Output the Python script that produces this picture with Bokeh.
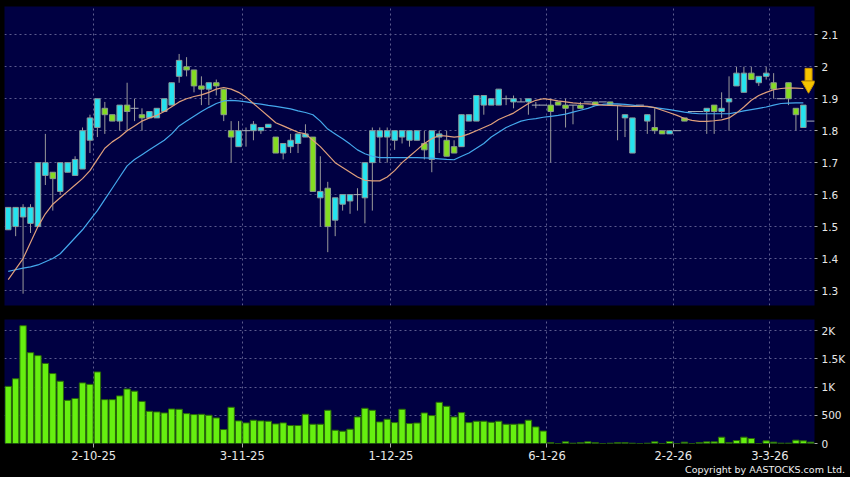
import numpy as np
from bokeh.plotting import figure
from bokeh.models import ColumnDataSource, FixedTicker, Range1d, Grid, NumeralTickFormatter, Div
from bokeh.layouts import column
from bokeh.embed import file_html
from bokeh.resources import INLINE

# ---------------- data ----------------
opens = [1.49, 1.50, 1.53, 1.51, 1.50, 1.66, 1.67, 1.61, 1.67, 1.66,
         1.68, 1.77, 1.81, 1.87, 1.85, 1.83, 1.88, 1.87, 1.85, 1.84,
         1.84, 1.86, 1.88, 1.97, 2.00, 1.99, 1.94, 1.93, 1.95, 1.93,
         1.80, 1.75, 1.80, 1.80, 1.80, 1.81, 1.78, 1.73, 1.75, 1.76,
         1.78, 1.78, 1.59, 1.62, 1.52, 1.57, 1.58, 1.60, 1.59, 1.70,
         1.78, 1.78, 1.77, 1.78, 1.77, 1.77, 1.76, 1.71, 1.78, 1.77,
         1.75, 1.75, 1.83, 1.83, 1.88, 1.88, 1.88, 1.90, 1.89, 1.89,
         1.89, 1.88, 1.88, 1.88, 1.89, 1.88, 1.88, 1.88, 1.89, 1.89,
         1.89, 1.89, 1.88, 1.84, 1.73, 1.88, 1.83, 1.81, 1.80, 1.79,
         1.80, 1.84, 1.86, 1.86, 1.86, 1.88, 1.86, 1.89, 1.94, 1.92,
         1.98, 1.95, 1.97, 1.95, 1.90, 1.95, 1.87, 1.81, 1.83]
highs = [1.56, 1.56, 1.57, 1.57, 1.70, 1.79, 1.67, 1.70, 1.70, 1.72,
         1.81, 1.85, 1.90, 1.89, 1.85, 1.88, 1.95, 1.90, 1.87, 1.86,
         1.87, 1.90, 1.95, 2.04, 2.03, 1.99, 1.97, 1.95, 1.96, 1.93,
         1.83, 1.83, 1.81, 1.83, 1.81, 1.82, 1.78, 1.76, 1.79, 1.79,
         1.82, 1.78, 1.72, 1.64, 1.59, 1.60, 1.60, 1.62, 1.70, 1.81,
         1.81, 1.81, 1.80, 1.80, 1.80, 1.80, 1.80, 1.80, 1.80, 1.80,
         1.77, 1.85, 1.85, 1.91, 1.91, 1.90, 1.93, 1.91, 1.91, 1.90,
         1.90, 1.89, 1.88, 1.90, 1.89, 1.90, 1.88, 1.89, 1.89, 1.89,
         1.89, 1.89, 1.88, 1.85, 1.84, 1.88, 1.85, 1.87, 1.80, 1.80,
         1.80, 1.84, 1.86, 1.86, 1.87, 1.88, 1.92, 1.97, 2.00, 2.00,
         2.00, 1.97, 2.00, 1.98, 1.90, 1.95, 1.87, 1.88, 1.83]
lows = [1.49, 1.47, 1.29, 1.48, 1.50, 1.63, 1.55, 1.60, 1.67, 1.66,
        1.68, 1.73, 1.78, 1.79, 1.83, 1.80, 1.80, 1.83, 1.80, 1.84,
        1.84, 1.86, 1.88, 1.95, 1.97, 1.92, 1.88, 1.88, 1.91, 1.83,
        1.70, 1.75, 1.75, 1.77, 1.79, 1.81, 1.73, 1.71, 1.73, 1.73,
        1.78, 1.61, 1.50, 1.42, 1.47, 1.55, 1.54, 1.55, 1.51, 1.55,
        1.70, 1.70, 1.74, 1.76, 1.75, 1.77, 1.71, 1.67, 1.73, 1.72,
        1.73, 1.75, 1.83, 1.83, 1.85, 1.88, 1.88, 1.88, 1.87, 1.89,
        1.85, 1.87, 1.88, 1.70, 1.88, 1.81, 1.82, 1.87, 1.89, 1.88,
        1.89, 1.88, 1.77, 1.78, 1.73, 1.88, 1.79, 1.79, 1.79, 1.79,
        1.80, 1.83, 1.86, 1.86, 1.79, 1.79, 1.84, 1.80, 1.94, 1.92,
        1.96, 1.94, 1.96, 1.90, 1.90, 1.88, 1.80, 1.81, 1.83]
closes = [1.56, 1.56, 1.56, 1.56, 1.70, 1.70, 1.65, 1.70, 1.70, 1.71,
          1.80, 1.84, 1.90, 1.85, 1.83, 1.88, 1.86, 1.87, 1.84, 1.86,
          1.87, 1.90, 1.95, 2.02, 1.99, 1.94, 1.93, 1.95, 1.94, 1.85,
          1.78, 1.80, 1.80, 1.82, 1.81, 1.82, 1.73, 1.76, 1.77, 1.79,
          1.79, 1.61, 1.61, 1.50, 1.59, 1.60, 1.60, 1.60, 1.70, 1.80,
          1.80, 1.80, 1.80, 1.80, 1.80, 1.80, 1.74, 1.80, 1.79, 1.72,
          1.73, 1.85, 1.85, 1.91, 1.91, 1.90, 1.93, 1.90, 1.90, 1.89,
          1.90, 1.88, 1.88, 1.86, 1.88, 1.87, 1.88, 1.87, 1.89, 1.88,
          1.89, 1.88, 1.88, 1.85, 1.84, 1.88, 1.85, 1.80, 1.79, 1.80,
          1.80, 1.83, 1.86, 1.86, 1.87, 1.86, 1.87, 1.90, 1.98, 1.98,
          1.96, 1.97, 1.98, 1.93, 1.90, 1.90, 1.85, 1.88, 1.83]
volume = [1011, 1147, 2085, 1608, 1555, 1417, 1238, 1102, 764, 797,
          1073, 1047, 1267, 776, 776, 843, 964, 926, 745, 570,
          559, 541, 611, 606, 529, 512, 517, 500, 453, 247,
          641, 400, 365, 412, 400, 394, 347, 365, 318, 318,
          517, 341, 341, 588, 235, 218, 253, 470, 623, 588,
          382, 429, 370, 606, 353, 362, 541, 494, 729, 659,
          470, 547, 370, 394, 394, 376, 394, 341, 341, 347,
          412, 294, 220, 15, 0, 30, 5, 15, 30, 15,
          0, 5, 15, 15, 5, 0, 5, 30, 0, 35,
          0, 24, 0, 18, 29, 29, 112, 18, 53, 112,
          88, 0, 47, 24, 6, 6, 59, 47, 24]
ma_short = [1.334, 1.367, 1.40, 1.45, 1.50, 1.54, 1.57, 1.59, 1.61, 1.63,
            1.65, 1.675, 1.71, 1.745, 1.765, 1.78, 1.80, 1.815, 1.83, 1.84,
            1.848, 1.86, 1.875, 1.89, 1.90, 1.907, 1.912, 1.92, 1.93, 1.935,
            1.93, 1.92, 1.905, 1.885, 1.865, 1.845, 1.825, 1.815, 1.805, 1.795,
            1.79, 1.77, 1.75, 1.725, 1.70, 1.685, 1.67, 1.655, 1.645, 1.643,
            1.643, 1.655, 1.675, 1.70, 1.72, 1.74, 1.76, 1.775, 1.785, 1.783,
            1.78, 1.782, 1.79, 1.80, 1.81, 1.82, 1.835, 1.845, 1.855, 1.87,
            1.885, 1.895, 1.90, 1.897, 1.893, 1.89, 1.887, 1.885, 1.884, 1.882,
            1.88, 1.879, 1.878, 1.877, 1.876, 1.876, 1.876, 1.872, 1.864, 1.856,
            1.848, 1.838, 1.832, 1.829, 1.829, 1.831, 1.834, 1.84, 1.855, 1.874,
            1.895, 1.91, 1.92, 1.928, 1.932, 1.934, 1.933, 1.932]
ma_long = [1.36, 1.365, 1.37, 1.374, 1.38, 1.39, 1.40, 1.415, 1.44, 1.465,
           1.49, 1.52, 1.55, 1.585, 1.62, 1.655, 1.69, 1.71, 1.725, 1.74,
           1.755, 1.77, 1.79, 1.815, 1.83, 1.845, 1.86, 1.873, 1.885, 1.893,
           1.895, 1.893, 1.89, 1.886, 1.883, 1.879, 1.876, 1.872, 1.868, 1.862,
           1.857, 1.85, 1.83, 1.805, 1.79, 1.775, 1.758, 1.74, 1.728, 1.72,
           1.716, 1.716, 1.716, 1.716, 1.716, 1.716, 1.715, 1.714, 1.712, 1.71,
           1.709, 1.72, 1.73, 1.745, 1.76, 1.78, 1.795, 1.81, 1.82, 1.83,
           1.835, 1.838, 1.842, 1.845, 1.848, 1.852, 1.858, 1.864, 1.87, 1.878,
           1.882, 1.884, 1.884, 1.882, 1.88, 1.877, 1.875, 1.872, 1.869, 1.866,
           1.862, 1.858, 1.855, 1.853, 1.853, 1.853, 1.853, 1.853, 1.857, 1.862,
           1.866, 1.87, 1.874, 1.88, 1.885, 1.886, 1.887, 1.887]
month_start_idx = [12, 32, 52, 73, 90, 103]
date_labels = ["2-10-25", "3-11-25", "1-12-25", "6-1-26", "2-2-26", "3-3-26"]
price_ticks = [1.3, 1.4, 1.5, 1.6, 1.7, 1.8, 1.9, 2.0, 2.1]
vol_ticks = [0, 500, 1000, 1500, 2000]
vol_labels = ["0", "500", "1K", "1.5K", "2K"]
signal_x = 107.7       # yellow down-arrow marker near the last bar
signal_top = 1.995
signal_tip = 1.924

# ---------------- styling ----------------
NAVY = "#000042"
GRID = "#5c5c8e"
UP_FILL = "#25e3ef"
DN_FILL = "#84dc22"
WICK = "#9a9a9a"
TXT = "#e8e8e8"
FONT = "DejaVu Sans"
FRAME_W = 810
LEFT = 4
RIGHT = 36

n = len(closes)
idx = np.arange(n)
o = np.array(opens); c = np.array(closes)
h = np.array(highs); l = np.array(lows)
flat = np.isclose(o, c)
up = (c > o) & ~flat
dn = (c < o) & ~flat

grid_x = [m - 0.5 for m in month_start_idx]
xr = Range1d(-0.5, n - 0.5)


def style(p):
    p.background_fill_color = NAVY
    p.border_fill_color = "black"
    p.outline_line_color = None
    p.grid.grid_line_color = None
    p.min_border_left = LEFT
    p.min_border_right = RIGHT
    p.add_layout(Grid(dimension=0, ticker=FixedTicker(ticks=grid_x),
                      grid_line_color=GRID, grid_line_dash="2 3", grid_line_width=1))
    ax = p.yaxis[0]
    ax.axis_line_color = None
    ax.major_tick_line_color = "#aaaaaa"
    ax.major_tick_out = 3
    ax.major_tick_in = 0
    ax.minor_tick_line_color = None
    ax.major_label_text_color = TXT
    ax.major_label_text_font = FONT
    ax.major_label_text_font_size = "10.5px"
    ax.major_label_standoff = 4


# ---------------- price panel ----------------
p1 = figure(frame_width=FRAME_W, frame_height=299, x_range=xr,
            y_range=Range1d(1.2531, 2.1885), y_axis_location="right",
            x_axis_location=None, output_backend="svg", toolbar_location=None,
            tools="")
style(p1)
p1.min_border_top = 6
p1.min_border_bottom = 14
p1.add_layout(Grid(dimension=1, ticker=FixedTicker(ticks=price_ticks),
                   grid_line_color=GRID, grid_line_dash="2 3", grid_line_width=1))
p1.yaxis.ticker = FixedTicker(ticks=price_ticks)
p1.yaxis.formatter = NumeralTickFormatter(format="0.[0]")

src = ColumnDataSource(dict(x=idx, h=h, l=l))
p1.segment(x0="x", y0="h", x1="x", y1="l", source=src, line_color=WICK, line_width=1)

up_src = ColumnDataSource(dict(x=idx[up], top=c[up], bot=o[up]))
dn_src = ColumnDataSource(dict(x=idx[dn], top=o[dn], bot=c[dn]))
p1.vbar(x="x", top="top", bottom="bot", width=0.74, source=up_src,
        fill_color=UP_FILL, line_color="#8a9a9a", line_width=1)
p1.vbar(x="x", top="top", bottom="bot", width=0.74, source=dn_src,
        fill_color=DN_FILL, line_color="#8a9a8a", line_width=1)
fl_src = ColumnDataSource(dict(x=idx[flat], y=c[flat]))
p1.scatter(x="x", y="y", marker="dash", size=8, source=fl_src,
           line_color="#a8b0b8", line_width=1)

p1.line(idx[:len(ma_long)], ma_long, line_color="#44a8ec", line_width=1.2)
p1.line(idx[:len(ma_short)], ma_short, line_color="#e0a07c", line_width=1.2)

# yellow down arrow
shaft_bot = signal_tip + (signal_top - signal_tip) * 0.45
p1.rect(x=[signal_x], y=[(signal_top + shaft_bot) / 2], width=7, width_units="screen",
        height=[signal_top - shaft_bot], fill_color="#f6c400", line_color="#c99400")
p1.scatter(x=[signal_x], y=[shaft_bot - (shaft_bot - signal_tip) * 0.42],
           marker="inverted_triangle", size=14, fill_color="#f6c400", line_color="#c99400")

# ---------------- volume panel ----------------
p2 = figure(frame_width=FRAME_W, frame_height=124, x_range=xr,
            y_range=Range1d(0, 2195), y_axis_location="right",
            output_backend="svg", toolbar_location=None, tools="")
style(p2)
p2.min_border_top = 0
p2.min_border_bottom = 20
p2.add_layout(Grid(dimension=1, ticker=FixedTicker(ticks=vol_ticks[1:]),
                   grid_line_color=GRID, grid_line_dash="2 3", grid_line_width=1))
p2.yaxis.ticker = FixedTicker(ticks=vol_ticks)
p2.yaxis.major_label_overrides = {t: s for t, s in zip(vol_ticks, vol_labels)}
p2.vbar(x=idx, top=volume, bottom=0, width=0.86, fill_color="#66ef10",
        line_color="#2a6a08", line_width=1)

xa = p2.xaxis[0]
xa.ticker = FixedTicker(ticks=grid_x)
xa.major_label_overrides = {t: s for t, s in zip(grid_x, date_labels)}
xa.axis_line_color = None
xa.major_tick_line_color = "#aaaaaa"
xa.major_tick_out = 4
xa.major_tick_in = 0
xa.minor_tick_line_color = None
xa.major_label_text_color = TXT
xa.major_label_text_font = FONT
xa.major_label_text_font_size = "11.5px"
xa.major_label_standoff = 3

copy = Div(text="Copyright by AASTOCKS.com Ltd.", width=FRAME_W + LEFT + RIGHT, height=14,
           styles={"background-color": "black", "color": "#f0f0f0",
                   "font-size": "9.5px", "font-family": FONT,
                   "text-align": "right", "line-height": "14px",
                   "padding-right": "5px", "margin": "0", "box-sizing": "border-box"})

layout = column(p1, p2, copy, spacing=0, styles={"background-color": "black"})

open("out.html", "w").write(file_html(layout, INLINE))
